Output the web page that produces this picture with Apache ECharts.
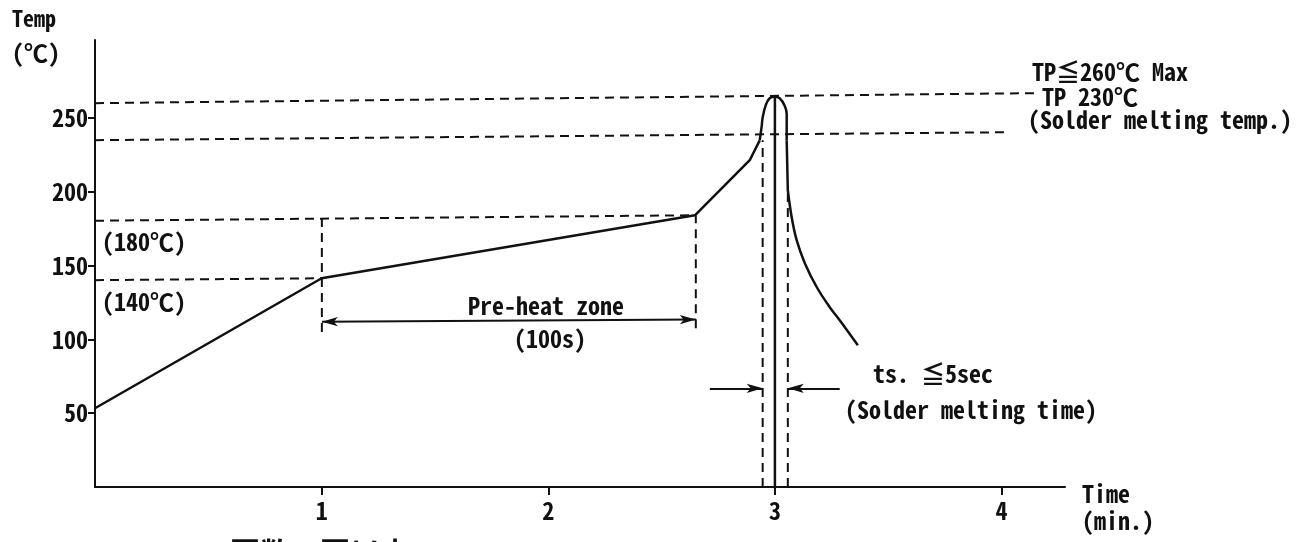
<!DOCTYPE html>
<html>
<head>
<meta charset="utf-8">
<script src="https://cdn.jsdelivr.net/npm/echarts@6/dist/echarts.min.js"></script>
<style>
html,body{margin:0;padding:0;background:#fff;}
#c{width:1300px;height:542px;}
</style>
</head>
<body>
<div id="c"></div>
<script>
// ---- data ----
const xTicks = [1, 2, 3, 4];
const yTicks = [50, 100, 150, 200, 250];

// straight ramp: start -> pre-heat start -> pre-heat end -> approach to peak
const rampTime = [0, 1.0, 2.647, 2.889, 2.933];
const rampTemp = [53.4, 141.5, 184.2, 221.5, 235];

// rounded peak
const peakTime = [2.933, 2.942, 2.946, 2.960, 2.977, 2.999, 3.021, 3.043, 3.052, 3.052];
const peakTemp = [235, 245, 250.5, 259, 263.5, 264.5, 263.5, 258.5, 253, 235];

// steep drop then cooling curve
const dropTime = [3.052, 3.057];
const dropTemp = [235, 201];
const coolTime = [3.057, 3.074, 3.096, 3.132, 3.185, 3.242, 3.286, 3.366];
const coolTemp = [201.2, 182.9, 167.3, 151.7, 135.4, 121.9, 113.1, 96.1];

// centre line of the peak
const centreTime = [3.0, 3.0];
const centreTemp = [-2, 264.5];

// dashed guide lines: start (x,y) -> end (x,y)
const guideX1 = [0, 0, 0, 0, 1.001, 2.651, 2.946, 3.057];
const guideY1 = [260.2, 235.1, 180.5, 140.2, 105, 107.6, 0, 0];
const guideX2 = [4.155, 4.036, 2.647, 1.001, 1.001, 2.651, 2.946, 3.057];
const guideY2 = [267, 240.5, 184.2, 141.5, 182, 184.2, 235, 201];

// dimension arrows: start -> end, and whether both ends have heads
const arrowX1 = [1.001, 2.713, 3.286];
const arrowY1 = [112, 66.9, 66.9];
const arrowX2 = [2.651, 2.946, 3.057];
const arrowY2 = [113.5, 66.9, 66.9];
const arrowBoth = [true, false, false];

// ---- chart ----
const FONT = '"Noto Sans Mono CJK JP", "Noto Sans CJK JP", "DejaVu Sans Mono", monospace';
const zip = (a, b) => a.map((v, i) => [v, b[i]]);
const solid = { color: '#111', width: 2.5 };

const series = [
  { type: 'line', data: zip(rampTime, rampTemp), showSymbol: false, lineStyle: solid, silent: true },
  { type: 'line', data: zip(peakTime, peakTemp), showSymbol: false, smooth: 0.4, lineStyle: solid, silent: true },
  { type: 'line', data: zip(dropTime, dropTemp), showSymbol: false, lineStyle: solid, silent: true },
  { type: 'line', data: zip(coolTime, coolTemp), showSymbol: false, smooth: 0.4, lineStyle: solid, silent: true },
  { type: 'line', data: zip(centreTime, centreTemp), showSymbol: false, lineStyle: solid, silent: true }
];
guideX1.forEach((x, i) => {
  series.push({
    type: 'line', showSymbol: false, silent: true,
    data: [[x, guideY1[i]], [guideX2[i], guideY2[i]]],
    lineStyle: { color: '#111', width: 2, type: [9, 6] }
  });
});
series.push({
  type: 'line', data: [], silent: true,
  markLine: {
    silent: true,
    animation: false,
    label: { show: false },
    lineStyle: { color: '#111', width: 2, type: 'solid' },
    emphasis: { disabled: true },
    data: arrowX1.map((x, i) => [
      { coord: [x, arrowY1[i]], symbol: arrowBoth[i] ? 'arrow' : 'none', symbolSize: [7, 16] },
      { coord: [arrowX2[i], arrowY2[i]], symbol: 'arrow', symbolSize: [7, 16] }
    ])
  }
});

const txt = (x, y, text, size, extra) => ({
  type: 'text', x: x, y: y, silent: true,
  style: Object.assign({ text: text, font: 'bold ' + size + 'px ' + FONT, fill: '#111', verticalAlign: 'middle', align: 'left' }, extra || {})
});

const option = {
  animation: false,
  backgroundColor: '#fff',
  grid: { left: 95, right: 235, top: 40, bottom: 55 },
  xAxis: {
    type: 'value', min: 0, max: 4.28, interval: 1,
    splitLine: { show: false },
    axisLine: { lineStyle: { color: '#111', width: 2 } },
    axisTick: { customValues: xTicks, length: 8, lineStyle: { color: '#111', width: 2 } },
    axisLabel: { customValues: xTicks, color: '#111', fontFamily: FONT, fontWeight: 'bold', fontSize: 24, margin: 12 }
  },
  yAxis: {
    type: 'value', min: 0, max: 303, interval: 50,
    splitLine: { show: false },
    axisLine: { show: true, lineStyle: { color: '#111', width: 2 } },
    axisTick: { customValues: yTicks, length: 7, lineStyle: { color: '#111', width: 2 } },
    axisLabel: { customValues: yTicks, color: '#111', fontFamily: FONT, fontWeight: 'bold', fontSize: 24, margin: 7 }
  },
  series: series,
  graphic: [
    txt(12, 19, 'Temp', 22),
    txt(12, 53, '(℃)', 24),
    txt(1032, 72, 'TP≦260℃ Max', 24),
    txt(1042, 97, 'TP 230℃', 24),
    txt(1028, 120, '(Solder melting temp.)', 24),
    txt(102, 242, '(180℃)', 24),
    txt(102, 302, '(140℃)', 24),
    txt(546, 306, 'Pre-heat zone', 24, { align: 'center' }),
    txt(550, 339, '(100s)', 24, { align: 'center' }),
    txt(873, 374, 'ts. ≦5sec', 24),
    txt(845, 410, '(Solder melting time)', 24),
    txt(1082, 494, 'Time', 24),
    txt(1082, 521, '(min.)', 24),
    txt(170, 538, '※　回数２回以内', 30, { verticalAlign: 'top' })
  ]
};

const chart = echarts.init(document.getElementById('c'), null, { renderer: 'canvas' });
chart.setOption(option);
</script>
</body>
</html>
